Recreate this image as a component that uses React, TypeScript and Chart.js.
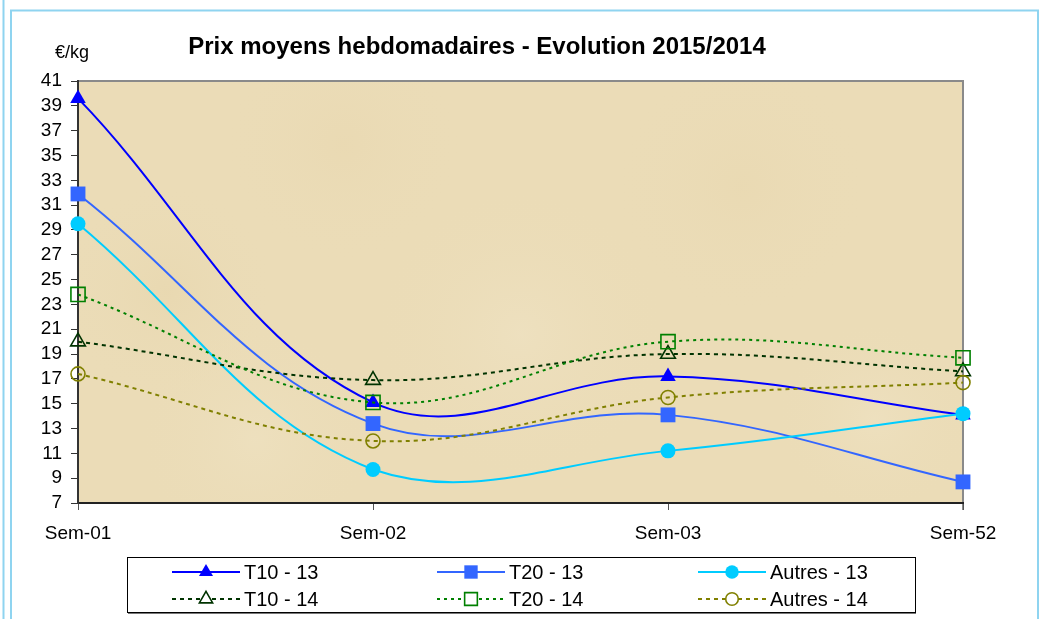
import React, { useEffect, useRef } from "react";
import { Chart, registerables } from "chart.js";

Chart.register(...registerables);

const categories = ["Sem-01", "Sem-02", "Sem-03", "Sem-52"];
const t10_13 = [39.6, 15.1, 17.2, 14.1];
const t20_13 = [31.9, 13.4, 14.1, 8.7];
const autres_13 = [29.5, 9.7, 11.2, 14.2];
const t10_14 = [20.0, 16.9, 19.0, 17.6];
const t20_14 = [23.8, 15.1, 20.0, 18.7];
const autres_14 = [17.4, 12.0, 15.5, 16.7];
const yMin = 7;
const yMax = 41;
const yStep = 2;

const seriesNames = ["T10 - 13", "T20 - 13", "Autres - 13", "T10 - 14", "T20 - 14", "Autres - 14"];
const title = "Prix moyens hebdomadaires - Evolution 2015/2014";
const unit = "€/kg";

const FONT = 'Arial, "Liberation Sans", sans-serif';

type Style = { color: string; dash: number[]; shape: string; filled: boolean; r: number };
const styles: Style[] = [
  { color: "#0000FF", dash: [], shape: "triangle", filled: true, r: 9 },
  { color: "#3366FF", dash: [], shape: "rect", filled: true, r: 10.5 },
  { color: "#00CCFF", dash: [], shape: "circle", filled: true, r: 7.5 },
  { color: "#003300", dash: [4, 4], shape: "triangle", filled: false, r: 8.5 },
  { color: "#008000", dash: [3, 4], shape: "rect", filled: false, r: 10 },
  { color: "#808000", dash: [4, 4], shape: "circle", filled: false, r: 7 },
];

function drawMarker(ctx: CanvasRenderingContext2D, s: Style, x: number, y: number) {
  ctx.save();
  ctx.setLineDash([]);
  ctx.beginPath();
  if (s.shape === "triangle") {
    let rad = 0;
    ctx.moveTo(x + Math.sin(rad) * s.r, y - Math.cos(rad) * s.r);
    rad += (2 * Math.PI) / 3;
    ctx.lineTo(x + Math.sin(rad) * s.r, y - Math.cos(rad) * s.r);
    rad += (2 * Math.PI) / 3;
    ctx.lineTo(x + Math.sin(rad) * s.r, y - Math.cos(rad) * s.r);
    ctx.closePath();
  } else if (s.shape === "rect") {
    const h = (s.r * Math.SQRT2) / 2;
    ctx.rect(x - h, y - h, 2 * h, 2 * h);
  } else {
    ctx.arc(x, y, s.r, 0, Math.PI * 2);
  }
  if (s.filled) {
    ctx.fillStyle = s.color;
    ctx.fill();
  } else {
    ctx.fillStyle = "#ffffff";
    ctx.fill();
    ctx.lineWidth = 1.6;
    ctx.strokeStyle = s.color;
    ctx.stroke();
  }
  ctx.restore();
}

const decorPlugin = {
  id: "decor",
  beforeDraw(chart: any) {
    const ctx: CanvasRenderingContext2D = chart.ctx;
    const { left, top, right, bottom } = chart.chartArea;
    ctx.save();
    ctx.fillStyle = "#ffffff";
    ctx.fillRect(0, 0, chart.width, chart.height);
    // outer frame lines
    ctx.strokeStyle = "#8fd4f0";
    ctx.lineWidth = 2;
    ctx.beginPath();
    ctx.moveTo(3.5, 0);
    ctx.lineTo(3.5, chart.height);
    ctx.stroke();
    ctx.beginPath();
    ctx.moveTo(11, chart.height + 5);
    ctx.lineTo(11, 10.5);
    ctx.lineTo(1038, 10.5);
    ctx.lineTo(1038, chart.height + 5);
    ctx.stroke();
    // plot background
    ctx.fillStyle = "#EBDCB7";
    ctx.fillRect(left, top, right - left, bottom - top);
    const blobs = [
      [0.1, 0.5, 110, "rgba(222,200,150,0.18)"],
      [0.3, 0.15, 120, "rgba(228,206,160,0.18)"],
      [0.5, 0.6, 150, "rgba(245,236,214,0.25)"],
      [0.75, 0.25, 130, "rgba(226,204,156,0.15)"],
      [0.9, 0.8, 100, "rgba(246,238,216,0.22)"],
      [0.2, 0.85, 120, "rgba(246,238,216,0.2)"],
    ] as const;
    for (const [fx, fy, rr, col] of blobs) {
      const cx = left + fx * (right - left);
      const cy = top + fy * (bottom - top);
      const rg = ctx.createRadialGradient(cx, cy, 0, cx, cy, rr);
      rg.addColorStop(0, col);
      rg.addColorStop(1, "rgba(235,220,183,0)");
      ctx.fillStyle = rg;
      ctx.fillRect(left, top, right - left, bottom - top);
    }
    // top and right borders
    ctx.strokeStyle = "#8a8a8a";
    ctx.lineWidth = 2;
    ctx.beginPath();
    ctx.moveTo(left, top);
    ctx.lineTo(right, top);
    ctx.lineTo(right, bottom + 7);
    ctx.stroke();
    // title and unit
    ctx.fillStyle = "#000";
    ctx.font = `bold 24px ${FONT}`;
    ctx.textAlign = "center";
    ctx.textBaseline = "alphabetic";
    ctx.fillText(title, 477, 54);
    ctx.font = `18px ${FONT}`;
    ctx.textAlign = "left";
    ctx.fillText(unit, 55, 58);
    ctx.restore();
  },
  afterDraw(chart: any) {
    const ctx: CanvasRenderingContext2D = chart.ctx;
    ctx.save();
    // legend box
    const bx = 127, by = 557, bw = 788, bh = 55;
    ctx.fillStyle = "#ffffff";
    ctx.fillRect(bx, by, bw, bh);
    ctx.strokeStyle = "#000";
    ctx.lineWidth = 1;
    ctx.strokeRect(bx + 0.5, by + 0.5, bw, bh);
    ctx.strokeStyle = "#777";
    ctx.beginPath();
    ctx.moveTo(bx + 1, by + bh + 1.5);
    ctx.lineTo(bx + bw + 1, by + bh + 1.5);
    ctx.stroke();
    const colX = [172, 437, 698];
    const rowY = [572, 599];
    chart.data.datasets.forEach((ds: any, i: number) => {
      const s = styles[i];
      const x0 = colX[i % 3];
      const y = rowY[Math.floor(i / 3)];
      ctx.save();
      ctx.strokeStyle = s.color;
      ctx.lineWidth = 2;
      ctx.setLineDash(s.dash);
      ctx.beginPath();
      ctx.moveTo(x0, y);
      ctx.lineTo(x0 + 68, y);
      ctx.stroke();
      ctx.restore();
      drawMarker(ctx, { ...s, r: s.r * 0.9 }, x0 + 34, y);
      ctx.fillStyle = "#000";
      ctx.font = `20px ${FONT}`;
      ctx.textAlign = "left";
      ctx.textBaseline = "middle";
      ctx.fillText(ds.label, x0 + 72, y + 1);
    });
    ctx.restore();
  },
};

export default function App() {
  const ref = useRef<HTMLCanvasElement | null>(null);
  useEffect(() => {
    if (!ref.current) return;
    const values = [t10_13, t20_13, autres_13, t10_14, t20_14, autres_14];
    const chart = new Chart(ref.current, {
      type: "line",
      data: {
        labels: categories,
        datasets: values.map((v, i) => {
          const s = styles[i];
          return {
            label: seriesNames[i],
            data: v,
            borderColor: s.color,
            borderWidth: 2,
            borderDash: s.dash,
            backgroundColor: s.filled ? s.color : "rgba(0,0,0,0)",
            pointBackgroundColor: s.filled ? s.color : "rgba(0,0,0,0)",
            pointBorderColor: s.color,
            pointBorderWidth: s.filled ? 0 : 1.6,
            pointStyle: s.shape,
            pointRadius: s.r,
            pointHoverRadius: s.r,
            tension: 0.38,
            fill: false,
            clip: false,
            order: 6 - i,
          };
        }),
      },
      options: {
        responsive: false,
        animation: false,
        devicePixelRatio: 1,
        layout: { padding: { left: 0, top: 81, right: 86, bottom: 0 } },
        plugins: {
          legend: { display: false },
          title: { display: false },
          tooltip: { enabled: false },
        },
        scales: {
          x: {
            type: "category",
            offset: false,
            grid: {
              display: true,
              drawOnChartArea: false,
              drawTicks: true,
              tickLength: 7,
              color: "#555",
              lineWidth: 1,
            },
            border: { display: true, color: "#222", width: 2 },
            ticks: {
              color: "#000",
              font: { family: FONT, size: 19 },
              padding: 12,
              maxRotation: 0,
            },
            afterFit: (scale: any) => {
              scale.height = 116;
            },
          },
          y: {
            min: yMin,
            max: yMax,
            grid: {
              display: true,
              drawOnChartArea: false,
              drawTicks: true,
              tickLength: 7,
              color: "#333",
              lineWidth: 1,
            },
            border: { display: true, color: "#333", width: 2 },
            ticks: {
              stepSize: yStep,
              color: "#000",
              font: { family: FONT, size: 19 },
              padding: 9,
              autoSkip: false,
            },
            afterFit: (scale: any) => {
              scale.width = 78;
            },
          },
        },
      },
      plugins: [decorPlugin],
    });
    return () => chart.destroy();
  }, []);
  return (
    <div style={{ position: "fixed", left: 0, top: 0, width: 1049, height: 619, background: "#fff" }}>
      <canvas ref={ref} width={1049} height={619} style={{ width: 1049, height: 619, display: "block" }} />
    </div>
  );
}
